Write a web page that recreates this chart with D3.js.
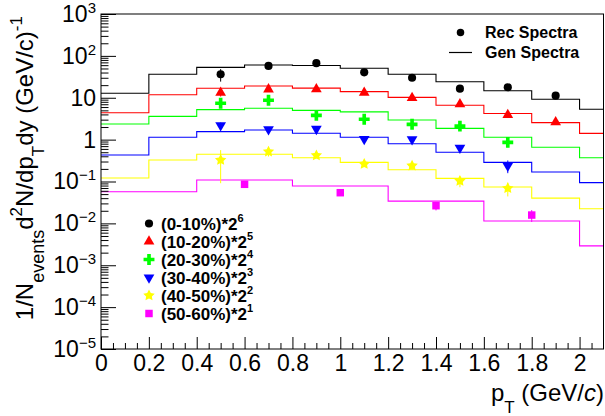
<!DOCTYPE html>
<html>
<head>
<meta charset="utf-8">
<script src="https://cdn.jsdelivr.net/npm/d3@7/dist/d3.min.js"></script>
<style>
  html, body { margin: 0; padding: 0; background: #fff; }
  svg { display: block; }
  text { font-family: "Liberation Sans", Arial, Helvetica, sans-serif; }
</style>
</head>
<body>
<svg id="chart" width="605" height="416"></svg>
<script>
// ---------------- data ----------------
const binEdges02 = [0, 0.2, 0.4, 0.6, 0.8, 1.0, 1.2, 1.4, 1.6, 1.8, 2.0, 2.2];
const binEdges04 = [0, 0.4, 0.8, 1.2, 1.6, 2.0, 2.4];

const gen0_10  = [12.8, 36.3, 53, 60.5, 59, 50.5, 36.3, 24.2, 14.7, 9.2, 5.3];
const gen10_20 = [4.4, 11.8, 16.8, 19.1, 17.0, 14.0, 10.2, 6.6, 4.2, 2.54, 1.41];
const gen20_30 = [2.36, 3.6, 5.2, 5.6, 5.0, 4.6, 2.94, 1.86, 1.14, 0.655, 0.37];
const gen30_40 = [0.43, 1.14, 1.55, 1.70, 1.42, 1.14, 0.80, 0.50, 0.287, 0.169, 0.094];
const gen40_50 = [0.121, 0.326, 0.446, 0.446, 0.37, 0.287, 0.191, 0.119, 0.074, 0.040, 0.0224];
const gen50_60 = [0.057, 0.109, 0.078, 0.034, 0.0114, 0.0029];

const recX8 = [0.5, 0.7, 0.9, 1.1, 1.3, 1.5, 1.7, 1.9];
const recX7 = [0.5, 0.7, 0.9, 1.1, 1.3, 1.5, 1.7];
const recX4 = [0.6, 1.0, 1.4, 1.8];

const rec0_10  = [36.3, 57.5, 67, 40.5, 30.1, 16.5, 17.8, 11.2];
const rec10_20 = [13.2, 15.9, 16.1, 13.2, 9.9, 7.0, 3.9, 2.6];
const rec20_30 = [7.4, 8.7, 3.8, 3.06, 2.32, 2.1, 0.86];
const rec30_40 = [2.2, 1.77, 1.8, 1.03, 1.02, 0.64, 0.238];
const rec40_50 = [0.326, 0.515, 0.42, 0.262, 0.238, 0.103, 0.069];
const rec50_60 = [0.0857, 0.054, 0.0264, 0.0158];

const err0_10  = [12, 4, 4, 3, 2.5, 1.5, 1.5, 1.0];
const err10_20 = [2.5, 1.5, 1.5, 1.2, 0.9, 0.6, 0.4, 0.25];
const err20_30 = [1.5, 1.0, 0.5, 0.3, 0.25, 0.2, 0.2];
const err30_40 = [0.35, 0.2, 0.2, 0.1, 0.1, 0.07, 0.08];
const err40_50 = [0.235, 0.12, 0.06, 0.04, 0.05, 0.03, 0.025];
const err50_60 = [0.012, 0.008, 0.006, 0.005];

const centLabels = ["(0-10%)*2", "(10-20%)*2", "(20-30%)*2", "(30-40%)*2", "(40-50%)*2", "(50-60%)*2"];
const centPowers = ["6", "5", "4", "3", "2", "1"];
const colors = ["#000000", "#ff0000", "#00ff00", "#0000ff", "#ffff00", "#ff00ff"];

const xTicks = [0, 0.2, 0.4, 0.6, 0.8, 1.0, 1.2, 1.4, 1.6, 1.8, 2.0];
const yExponents = [-5, -4, -3, -2, -1, 0, 1, 2, 3];

// ---------------- layout ----------------
const L = 101, R = 603.5, T = 14, B = 349;
const FONT = '"Liberation Sans", Arial, Helvetica, sans-serif';

const svg = d3.select("#chart");
const x = d3.scaleLinear().domain([0, 2.1]).range([L, R]);
const y = d3.scaleLog().domain([1e-5, 1e3]).range([B, T]);

const series = [
  { gen: gen0_10,  edges: binEdges02, rx: recX8, rec: rec0_10,  err: err0_10,  sym: "circle" },
  { gen: gen10_20, edges: binEdges02, rx: recX8, rec: rec10_20, err: err10_20, sym: "tri" },
  { gen: gen20_30, edges: binEdges02, rx: recX7, rec: rec20_30, err: err20_30, sym: "cross" },
  { gen: gen30_40, edges: binEdges02, rx: recX7, rec: rec30_40, err: err30_40, sym: "trid" },
  { gen: gen40_50, edges: binEdges02, rx: recX7, rec: rec40_50, err: err40_50, sym: "star" },
  { gen: gen50_60, edges: binEdges04, rx: recX4, rec: rec50_60, err: err50_60, sym: "square" },
];

// fat five-pointed star like ROOT marker 29
const fatStar = {
  draw(ctx, size) {
    const ro = Math.sqrt(size) * 0.95, ri = ro * 0.5;
    for (let k = 0; k < 10; k++) {
      const r = k % 2 ? ri : ro;
      const a = -Math.PI / 2 + k * Math.PI / 5;
      const px = r * Math.cos(a), py = r * Math.sin(a);
      if (k === 0) ctx.moveTo(px, py); else ctx.lineTo(px, py);
    }
    ctx.closePath();
  }
};

function symPath(kind) {
  switch (kind) {
    case "circle": return d3.symbol(d3.symbolCircle, 52)();
    case "tri":    return d3.symbol(d3.symbolTriangle, 50)();
    case "trid":   return d3.symbol(d3.symbolTriangle, 50)();
    case "cross":  return d3.symbol(d3.symbolCross, 66)();
    case "star":   return d3.symbol(fatStar, 40)();
    case "square": return d3.symbol(d3.symbolSquare, 56)();
  }
}
function symRot(kind) { return kind === "trid" ? " rotate(180)" : ""; }

// clip
svg.append("defs").append("clipPath").attr("id", "frameClip")
  .append("rect").attr("x", L).attr("y", T).attr("width", R - L).attr("height", B - T);

// ---------------- histograms (Gen) ----------------
const stepLine = d3.line().x(d => x(d[0])).y(d => y(d[1])).curve(d3.curveStepAfter);
const gHist = svg.append("g").attr("clip-path", "url(#frameClip)");
series.forEach((s, i) => {
  const pts = s.gen.map((v, k) => [s.edges[k], v]);
  pts.push([s.edges[s.gen.length], s.gen[s.gen.length - 1]]);
  gHist.append("path").attr("d", stepLine(pts))
    .attr("fill", "none").attr("stroke", colors[i]).attr("stroke-width", 1.1);
});

// ---------------- axes ----------------
const fmtX = d => String(+d.toFixed(1));
const gx = svg.append("g").attr("transform", `translate(0,${B})`)
  .call(d3.axisBottom(x).tickValues(xTicks).tickSize(-12).tickSizeOuter(0).tickPadding(6).tickFormat(fmtX));
gx.select(".domain").remove();
gx.selectAll("text").attr("font-size", 23).attr("font-family", FONT).attr("fill", "#000");
gx.selectAll("line").attr("stroke", "#000");

const xMinor = d3.range(0, 42).map(k => k * 0.05).filter(v => Math.abs(v * 5 - Math.round(v * 5)) > 1e-6 && v < 2.1);
const gxm = svg.append("g").attr("transform", `translate(0,${B})`)
  .call(d3.axisBottom(x).tickValues(xMinor).tickSize(-6).tickSizeOuter(0).tickFormat(""));
gxm.select(".domain").remove();
gxm.selectAll("line").attr("stroke", "#000");

const yMajorVals = yExponents.map(e => Math.pow(10, e));
const gy = svg.append("g").attr("transform", `translate(${L},0)`)
  .call(d3.axisLeft(y).tickValues(yMajorVals).tickSize(-15).tickSizeOuter(0).tickPadding(5).tickFormat(""));
gy.select(".domain").remove();
gy.selectAll("line").attr("stroke", "#000");
gy.selectAll(".tick text").each(function(d, i) {
  const e = yExponents[i];
  const t = d3.select(this).attr("font-size", 23).attr("font-family", FONT).attr("fill", "#000");
  if (e === 0) { t.text("1"); }
  else if (e === 1) { t.text("10"); }
  else {
    t.text("10");
    t.append("tspan").attr("font-size", 15).attr("dy", -9).text(e < 0 ? "\u2212" + (-e) : String(e));
  }
});

const yMinorVals = [];
yExponents.slice(0, -1).forEach(e => { for (let m = 2; m <= 9; m++) yMinorVals.push(m * Math.pow(10, e)); });
const gym = svg.append("g").attr("transform", `translate(${L},0)`)
  .call(d3.axisLeft(y).tickValues(yMinorVals).tickSize(-7.5).tickSizeOuter(0).tickFormat(""));
gym.select(".domain").remove();
gym.selectAll("line").attr("stroke", "#000");

// frame
svg.append("rect").attr("x", L).attr("y", T).attr("width", R - L).attr("height", B - T)
  .attr("fill", "none").attr("stroke", "#000").attr("stroke-width", 1);

// ---------------- Rec points ----------------
const gPts = svg.append("g");
series.forEach((s, i) => {
  s.rx.forEach((px, k) => {
    const v = s.rec[k], e = s.err[k];
    gPts.append("line").attr("x1", x(px)).attr("x2", x(px))
      .attr("y1", y(v + e)).attr("y2", y(Math.max(v - e, 1e-6)))
      .attr("stroke", colors[i]).attr("stroke-width", 1);
    gPts.append("path").attr("d", symPath(s.sym))
      .attr("transform", `translate(${x(px)},${y(v)})${symRot(s.sym)}`)
      .attr("fill", colors[i]);
  });
});

// ---------------- legends ----------------
const leg1 = svg.append("g");
const legY0 = 223.5, legDy = 18;
series.forEach((s, i) => {
  const yy = legY0 + i * legDy;
  leg1.append("path").attr("d", symPath(s.sym))
    .attr("transform", `translate(149,${yy})${symRot(s.sym)}`).attr("fill", colors[i]);
  const t = leg1.append("text").attr("x", 161).attr("y", yy + 6)
    .attr("font-size", 17).attr("font-weight", "bold").attr("fill", "#000").text(centLabels[i]);
  t.append("tspan").attr("font-size", 11).attr("dy", -8).text(centPowers[i]);
});

const leg2 = svg.append("g");
leg2.append("path").attr("d", d3.symbol(d3.symbolCircle, 44)()).attr("transform", "translate(460.5,32.5)").attr("fill", "#000");
leg2.append("text").attr("x", 485).attr("y", 38).attr("font-size", 16).attr("font-weight", "bold").text("Rec Spectra");
leg2.append("line").attr("x1", 449).attr("x2", 472).attr("y1", 52.5).attr("y2", 52.5).attr("stroke", "#000").attr("stroke-width", 1.2);
leg2.append("text").attr("x", 485).attr("y", 58).attr("font-size", 16).attr("font-weight", "bold").text("Gen Spectra");

// ---------------- titles ----------------
const yt = svg.append("text").attr("transform", "translate(33,16) rotate(-90)")
  .attr("text-anchor", "end").attr("font-size", 24).attr("fill", "#000");
yt.append("tspan").text("1/N");
yt.append("tspan").attr("font-size", 18).attr("dy", 11).text("events");
yt.append("tspan").attr("dy", -11).text("d");
yt.append("tspan").attr("font-size", 17).attr("dy", -11).text("2");
yt.append("tspan").attr("dy", 11).text("N/dp");
yt.append("tspan").attr("font-size", 17).attr("dy", 11).text("T");
yt.append("tspan").attr("dy", -11).text("dy (GeV/c)");
yt.append("tspan").attr("font-size", 17).attr("dy", -11).text("-1");

const xt = svg.append("text").attr("x", 604).attr("y", 401).attr("text-anchor", "end")
  .attr("font-size", 24).attr("fill", "#000");
xt.append("tspan").text("p");
xt.append("tspan").attr("font-size", 17).attr("dy", 12).text("T");
xt.append("tspan").attr("dy", -12).text(" (GeV/");
xt.append("tspan").attr("font-style", "italic").text("c");
xt.append("tspan").text(")");
</script>
</body>
</html>
